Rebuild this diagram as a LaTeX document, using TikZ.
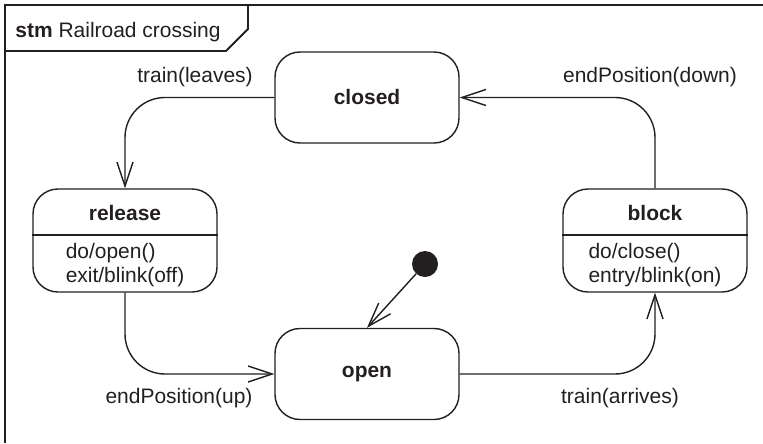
\documentclass[tikz,border=0pt]{standalone}
\usepackage{fontspec}
\setmainfont{Liberation Sans}
\usepackage{xcolor}
\usepackage{tikz}
\usetikzlibrary{arrows.meta, positioning}

\definecolor{ink}{HTML}{231F20}

\begin{document}
\begin{tikzpicture}[x=0.03cm, y=-0.03cm, font=\fontsize{17.9}{20.4}\selectfont, text=ink,
    statebox/.style={draw=ink, line width=1.2pt, rounded corners=0.75cm, minimum width=5.52cm, minimum height=2.73cm, inner sep=0pt},
    trans/.style={draw=ink, line width=1.2pt, rounded corners=1.2cm, -{Straight Barb[length=0.72cm, width=0.48cm]}},
    frame/.style={draw=ink, line width=1.6pt}]
  \useasboundingbox (0,0) rectangle (763,443);

  % frame and its header
  \draw[frame] (763,5) -| (5,443);
  \draw[frame] (5,51) -- (226,51) -- (248,29) -- (248,5);
  \node (title) at (118,32) {\textbf{stm} Railroad crossing};

  % states
  \node[statebox, font=\fontsize{17.9}{20.4}\selectfont\bfseries] (closed) at (367,97.5) {closed};
  \node[statebox, font=\fontsize{17.9}{20.4}\selectfont\bfseries] (open) at (367,374) {open};
  \node[statebox, minimum height=3.09cm] (release) at (125,240.5) {};
  \node[statebox, minimum height=3.09cm] (block) at (655,240.5) {};

  \draw[draw=ink, line width=1.2pt] (release.west |- 0,235) -- (release.east |- 0,235);
  \draw[draw=ink, line width=1.2pt] (block.west |- 0,235) -- (block.east |- 0,235);

  \node[font=\fontsize{17.9}{20.4}\selectfont\bfseries] (releasename) at (125,213) {release};
  \node[align=left, inner sep=0pt] (releasebody) at (125,265) {do/open()\\exit/blink(off)};
  \node[font=\fontsize{17.9}{20.4}\selectfont\bfseries] (blockname) at (655,213) {block};
  \node[align=left, inner sep=0pt] (blockbody) at (655,265) {do/close()\\entry/blink(on)};

  % initial pseudostate
  \node[circle, fill=ink, inner sep=0pt, minimum size=0.78cm] (init) at (425,264) {};

  % transitions
  \draw[trans, rounded corners=0pt] (init) -- (open.north);
  \draw[trans] (closed.west) -| (release.north);
  \draw[trans] (release.south) |- (open.west);
  \draw[trans] (open.east) -| (block.south);
  \draw[trans] (block.north) |- (closed.east);

  \node (leaves) at (195,77) {train(leaves)};
  \node (down) at (650,77) {endPosition(down)};
  \node (up) at (179,398) {endPosition(up)};
  \node (arrives) at (620,398) {train(arrives)};
\end{tikzpicture}
\end{document}
